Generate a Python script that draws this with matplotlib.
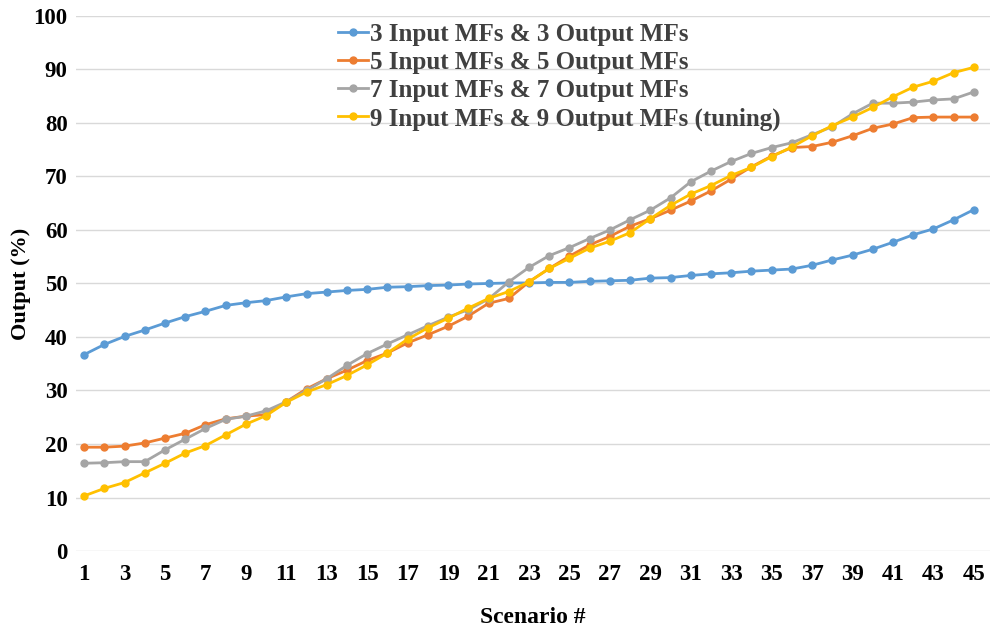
import matplotlib.pyplot as plt

scenarios = list(range(1, 46))

mf3 = [36.7, 38.6, 40.1, 41.3, 42.6, 43.8, 44.8, 45.9, 46.4, 46.8,
       47.5, 48.1, 48.4, 48.7, 48.9, 49.3, 49.4, 49.6, 49.7, 49.9,
       50.0, 50.1, 50.1, 50.2, 50.2, 50.4, 50.5, 50.6, 51.0, 51.1,
       51.5, 51.8, 52.0, 52.3, 52.5, 52.7, 53.4, 54.4, 55.3, 56.4,
       57.7, 59.1, 60.2, 61.9, 63.8]
mf5 = [19.4, 19.4, 19.6, 20.2, 21.1, 22.0, 23.6, 24.7, 25.2, 25.5,
       27.9, 30.3, 32.2, 33.8, 35.6, 37.0, 38.9, 40.4, 42.0, 43.9,
       46.3, 47.2, 50.3, 52.8, 55.1, 57.2, 58.8, 60.7, 62.1, 63.7,
       65.4, 67.3, 69.5, 71.8, 73.8, 75.4, 75.6, 76.4, 77.6, 79.0,
       79.8, 81.0, 81.1, 81.1, 81.1]
mf7 = [16.4, 16.5, 16.7, 16.7, 18.9, 20.9, 22.9, 24.6, 25.2, 26.2,
       27.9, 30.0, 32.2, 34.7, 36.9, 38.7, 40.4, 42.1, 43.7, 45.1,
       47.1, 50.3, 53.0, 55.2, 56.7, 58.4, 60.0, 61.9, 63.7, 66.0,
       69.0, 71.0, 72.8, 74.3, 75.4, 76.3, 77.8, 79.3, 81.7, 83.7,
       83.7, 83.9, 84.3, 84.5, 85.8]
mf9 = [10.3, 11.7, 12.8, 14.6, 16.4, 18.3, 19.7, 21.7, 23.7, 25.3,
       27.8, 29.7, 31.1, 32.8, 34.8, 37.0, 39.6, 41.7, 43.5, 45.4,
       47.2, 48.5, 50.3, 52.8, 54.7, 56.6, 57.9, 59.5, 62.1, 64.6,
       66.7, 68.3, 70.2, 71.7, 73.7, 75.5, 77.6, 79.5, 81.1, 82.9,
       84.9, 86.7, 87.8, 89.4, 90.4]

labels = [
    "3 Input MFs & 3 Output MFs",
    "5 Input MFs & 5 Output MFs",
    "7 Input MFs & 7 Output MFs",
    "9 Input MFs & 9 Output MFs (tuning)",
]
colors = ["#5B9BD5", "#ED7D31", "#A5A5A5", "#FFC000"]

plt.rcParams["font.family"] = ["Liberation Serif", "DejaVu Serif"]
plt.rcParams["font.weight"] = "bold"

fig = plt.figure(figsize=(9.95, 6.28), dpi=100)
ax = fig.add_axes([0.0764, 0.1226, 0.9186, 0.852])

for series, color, label in zip([mf3, mf5, mf7, mf9], colors, labels):
    ax.plot(scenarios, series, color=color, linewidth=2, marker="o",
            markersize=5, label=label)

ax.set_xlim(0.6, 45.8)
ax.set_ylim(0, 100)
ax.set_yticks(range(0, 101, 10))
ax.set_xticks(range(1, 46, 2))
ax.grid(axis="y", color="#D9D9D9", linewidth=1)
ax.set_axisbelow(True)
for side in ["top", "right", "left", "bottom"]:
    ax.spines[side].set_visible(False)
ax.tick_params(length=0, labelsize=16.5)
ax.tick_params(axis="x", pad=9)
ax.tick_params(axis="y", pad=6)
for t in ax.get_xticklabels() + ax.get_yticklabels():
    t.set_fontweight("bold")

ax.set_xlabel("Scenario #", fontsize=17, fontweight="bold", labelpad=16)
ax.set_ylabel("Output (%)", fontsize=16, fontweight="bold", labelpad=2)

leg = ax.legend(loc="upper left", bbox_to_anchor=(0.34, 0.963),
                bbox_transform=fig.transFigure, frameon=False,
                prop={"size": 18, "weight": "bold"}, handlelength=1.2,
                handletextpad=0.05, labelspacing=0.2, borderpad=0,
                borderaxespad=0)
for t in leg.get_texts():
    t.set_color("#404040")

fig.savefig("out.png", dpi=100)
